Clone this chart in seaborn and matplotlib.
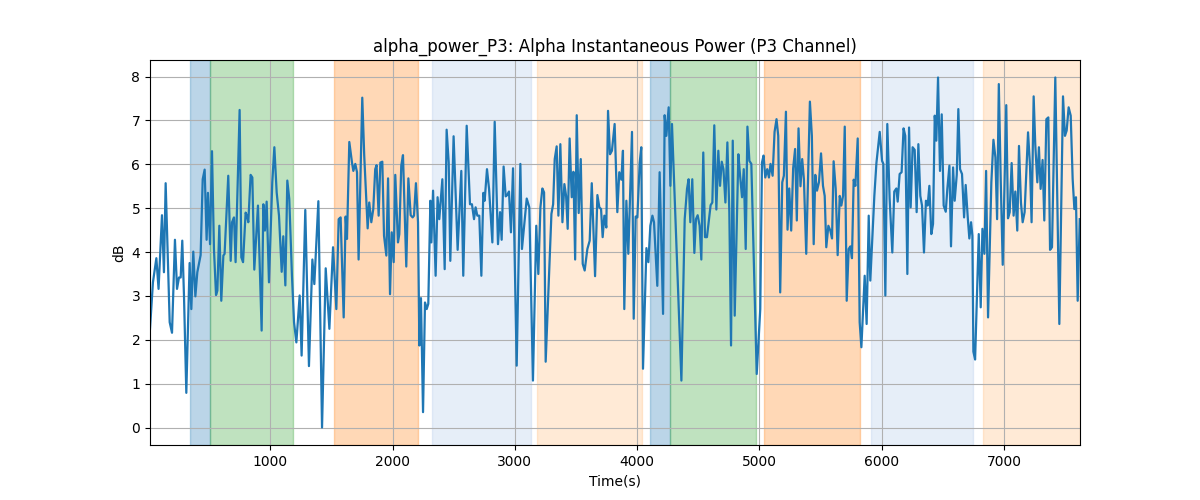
import matplotlib
matplotlib.use("Agg")
import matplotlib.pyplot as plt
import seaborn as sns
import pandas as pd

# ---- data ----
times = [16, 40, 68, 86, 114, 130, 144, 177, 196, 220, 237, 253, 267, 280, 294, 313, 340, 354, 370, 387,
         403, 430, 447, 463, 479, 490, 507, 523, 539, 556, 567, 583, 599, 616, 626, 643, 656, 676, 687, 703,
         716, 749, 763, 777,
         798, 809, 820, 839, 853, 869, 899, 929, 943, 956, 970, 989, 1016, 1033, 1052, 1071, 1093, 1106, 1123, 1139,
         1155, 1177, 1194, 1213, 1240, 1256, 1286, 1316, 1344, 1360, 1393, 1423, 1453, 1483, 1513, 1540,
         1559, 1575, 1600, 1616, 1627, 1646, 1668, 1679, 1695, 1709, 1722, 1752, 1768, 1796, 1809, 1826, 1842, 1858,
         1869, 1886, 1900, 1916, 1930, 1949, 1963, 1979, 1993, 2009, 2022, 2044, 2055, 2071, 2085, 2112, 2129, 2148,
         2164, 2175, 2191, 2208, 2219, 2232, 2249, 2265, 2279, 2292, 2309,
         2317, 2331, 2352, 2368, 2382, 2407, 2426, 2442, 2459, 2472, 2499, 2532, 2562, 2578, 2606, 2633, 2649, 2666,
         2679, 2693, 2709, 2726, 2742, 2753, 2772, 2789, 2816, 2835, 2862, 2879, 2892, 2908, 2925, 2938, 2952, 2968,
         2985, 3015, 3045, 3058, 3097,
         3118, 3148, 3175, 3192, 3209, 3225, 3239, 3252, 3299, 3313, 3326, 3342, 3356, 3372, 3389, 3405, 3419, 3432,
         3448, 3465, 3479, 3493, 3506, 3522, 3539, 3555, 3571, 3593, 3612, 3629, 3656, 3675, 3691, 3705, 3718, 3732,
         3748, 3762, 3778, 3794, 3816, 3838, 3854, 3871, 3884, 3895,
         3912, 3928, 3958, 3972, 3988, 4002, 4021, 4034, 4048, 4076, 4092, 4108, 4125, 4138, 4165, 4184, 4212, 4225,
         4239, 4258, 4272, 4285, 4362, 4389, 4408, 4421, 4435, 4451, 4468, 4481, 4495, 4511, 4525, 4541, 4555, 4571,
         4588, 4601, 4615, 4631, 4648, 4664, 4678, 4692, 4706, 4722, 4738, 4754, 4768, 4782, 4798, 4828, 4842, 4858,
         4872, 4888, 4902, 4918, 4934, 4978, 5007, 5021, 5034, 5048, 5064, 5078, 5091, 5108, 5124, 5140, 5154, 5170,
         5187, 5200, 5217, 5230, 5244, 5260, 5276, 5292, 5306, 5320, 5336, 5350, 5364, 5383, 5413, 5429, 5444, 5457,
         5471, 5487, 5504, 5520, 5534, 5547, 5564, 5580, 5594, 5607, 5624, 5640, 5657, 5670, 5684, 5698, 5714, 5730,
         5744, 5757, 5771, 5785, 5804, 5820, 5834, 5861, 5877, 5894, 5907, 5923, 5940, 5957, 5984, 6003, 6014, 6030,
         6046, 6065, 6087, 6103, 6120, 6131, 6147, 6163, 6179, 6193, 6210, 6224, 6237, 6253, 6270, 6286, 6300, 6316,
         6330, 6346, 6362, 6376, 6390, 6406, 6420, 6434, 6447, 6461, 6477, 6491, 6507, 6524, 6537, 6554, 6567, 6584,
         6597, 6614, 6627, 6641, 6657, 6674, 6687, 6704, 6717, 6731, 6742, 6750, 6764, 6794, 6810, 6824, 6840, 6854,
         6870, 6897, 6914, 6930, 6944, 6958, 6974, 6990,
         7019, 7033, 7047, 7063, 7079, 7093, 7109, 7123, 7139, 7153, 7169, 7197, 7213, 7226, 7243, 7256, 7273, 7286,
         7300, 7316, 7330, 7347, 7363, 7377, 7393, 7420, 7453, 7483, 7499, 7513, 7529, 7546, 7562, 7576, 7589, 7603,
         7620]

power_db = [2.25, 3.31, 3.86, 3.16, 4.84, 3.54, 5.57, 2.40, 2.16, 4.28, 3.16, 3.42, 3.42, 4.26, 3.00, 0.79, 3.75, 2.70, 4.01, 2.99,
            3.54, 3.93, 5.66, 5.88, 4.28, 5.35, 4.18, 6.30, 4.07, 3.02, 3.12, 4.60, 2.89, 3.92, 3.96, 4.98, 5.74, 3.80, 4.68, 4.79,
            3.77, 7.24, 3.88, 3.77,
            4.90, 4.83, 4.68, 5.76, 5.70, 3.60, 5.06, 2.21, 5.09, 4.49, 5.15, 3.31, 5.59, 6.39, 5.36, 4.83, 3.55, 4.36, 3.24, 5.63,
            5.21, 3.46, 2.40, 1.94, 3.01, 1.64, 4.96, 1.40, 3.83, 3.27, 5.16, 0.00, 3.63, 2.25, 4.11, 2.70,
            4.75, 4.79, 2.51, 4.81, 4.30, 6.51, 6.04, 5.85, 6.01, 5.82, 3.83, 7.52, 6.20, 4.54, 5.13, 4.68, 4.98, 5.89,
            5.98, 4.83, 6.04, 6.06, 4.37, 3.92, 5.68, 3.04, 4.45, 3.77, 5.76, 4.22, 4.41, 5.97, 6.21, 3.67, 5.68, 4.84,
            4.79, 4.83, 5.57, 4.68, 1.87, 2.95, 0.35, 2.85, 2.70, 2.82, 5.17,
            4.22, 5.40, 3.46, 5.25, 4.75, 5.66, 3.61, 6.79, 6.04, 3.80, 6.64, 4.05, 5.85, 3.46, 6.88, 5.09, 5.09, 4.75,
            5.02, 4.83, 4.83, 3.46, 5.35, 5.17, 5.89, 5.44, 4.22, 6.97, 4.18, 4.91, 4.28, 5.95, 5.27, 5.30, 5.38, 4.45,
            5.91, 1.41, 6.01, 4.07, 5.22,
            5.02, 1.07, 4.60, 3.50, 5.02, 5.45, 5.36, 1.50, 4.87, 5.09, 6.12, 6.41, 4.83, 6.46, 4.68, 5.55, 5.28, 4.53,
            6.59, 5.25, 5.83, 3.83, 7.12, 4.89, 6.12, 3.73, 3.58, 4.07, 4.26, 5.57, 3.45, 5.30, 5.02, 4.98, 4.34, 4.83,
            4.56, 7.22, 6.23, 6.31, 6.92, 4.91, 5.82, 5.65, 6.31, 2.70,
            5.17, 3.96, 6.74, 2.48, 4.81, 4.79, 6.04, 6.39, 1.34, 4.09, 3.77, 4.60, 4.83, 4.68, 3.23, 5.82, 2.59, 7.12,
            6.65, 7.30, 5.51, 6.92, 1.07, 4.75, 5.44, 5.66, 4.68, 5.66, 3.98, 4.75, 4.84, 4.60, 3.83, 6.27, 4.34, 4.34,
            4.75, 5.07, 5.13, 6.89, 4.97, 6.31, 5.51, 6.06, 5.89, 5.13, 6.50, 4.91, 1.87, 6.54, 2.55, 6.23, 5.74, 5.25,
            5.89, 4.07, 6.86, 6.08, 6.01, 1.22, 2.70, 6.04, 6.20, 5.70, 5.89, 5.70, 6.01, 5.74, 6.74, 7.03, 6.65, 3.08,
            5.59, 5.74, 7.20, 4.51, 5.45, 4.49, 5.91, 6.35, 4.72, 6.82, 5.50, 6.12, 5.66, 3.96, 7.43, 6.65, 4.18, 5.76,
            5.40, 5.59, 6.25, 5.51, 5.28, 4.11, 4.60, 4.49, 4.31, 6.07, 5.44, 3.93, 5.28, 5.06, 5.28, 6.86, 2.89, 4.07,
            4.13, 3.86, 5.65, 5.51, 6.59, 2.40, 1.83, 3.46, 2.36, 4.83, 3.35, 4.30, 5.28, 6.03, 6.74, 6.08, 6.01, 3.01,
            6.92, 5.22, 3.99, 5.38, 5.45, 5.15, 5.78, 5.82, 6.82, 6.65, 3.50, 6.84, 5.02, 6.39, 6.33, 4.91, 6.46, 5.28,
            5.06, 3.99, 5.17, 5.06, 5.51, 4.41, 4.64, 7.11, 6.54, 7.98, 5.85, 7.14, 5.06, 4.92, 5.44, 5.97, 4.13, 5.93,
            5.17, 5.76, 7.26, 5.89, 5.78, 4.79, 5.53, 4.79, 4.31, 4.68, 4.37, 1.73, 1.55, 4.41, 2.74, 4.53, 3.96, 5.85,
            2.51, 5.59, 6.56, 6.16, 4.75, 7.83, 5.60, 3.71,
            7.35, 4.77, 4.91, 6.03, 4.83, 5.38, 4.49, 6.42, 5.13, 4.68, 4.91, 6.73, 5.97, 4.68, 7.55, 6.46, 5.59, 6.39,
            5.44, 6.10, 4.72, 7.03, 7.07, 4.05, 4.11, 7.98, 2.36, 7.55, 6.65, 6.77, 7.30, 7.11, 5.66, 4.98, 5.25, 2.89,
            4.75]

span_starts = [340, 504, 1518, 2319, 3184, 4102, 4269, 5035, 5910, 6826]
span_ends = [504, 1188, 2210, 3135, 4043, 4269, 4975, 5825, 6744, 7622]
span_kinds = ["A", "B", "C", "D", "E", "A", "B", "C", "D", "E"]

# ---- styles ----
kind_style = {
    "A": ("#1f77b4", 0.3),
    "B": ("#2ca02c", 0.3),
    "C": ("#ff7f0e", 0.3),
    "D": ("#aec7e8", 0.3),
    "E": ("#ffbb78", 0.3),
}

df = pd.DataFrame({"Time(s)": times, "dB": power_db})

fig, ax = plt.subplots(figsize=(12, 5), dpi=100)
for s, e, k in zip(span_starts, span_ends, span_kinds):
    c, a = kind_style[k]
    ax.axvspan(s, e, color=c, alpha=a)

sns.lineplot(data=df, x="Time(s)", y="dB", ax=ax, color="tab:blue", linewidth=1.6)
ax.set_xlim(times[0], span_ends[-1])
ax.grid(True)
ax.set_title("alpha_power_P3: Alpha Instantaneous Power (P3 Channel)")
ax.set_xlabel("Time(s)")
ax.set_ylabel("dB")
fig.savefig("out.png", dpi=100)
